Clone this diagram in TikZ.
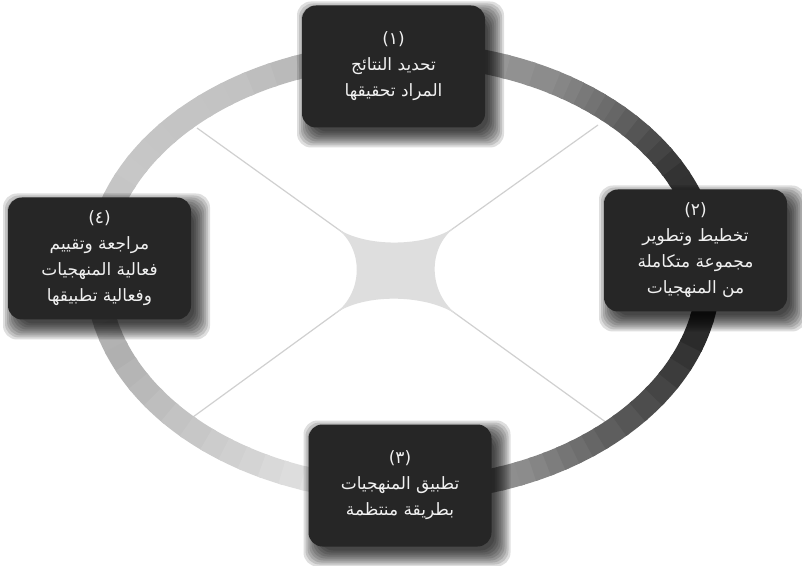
\documentclass[tikz,border=0pt]{standalone}
\usepackage{fontspec}
\usepackage{tikz}
\usetikzlibrary{calc}
\newfontfamily\arabicfont[Script=Arabic]{DejaVu Sans}
\TeXXeTstate=1
\definecolor{boxfill}{HTML}{262626}
\definecolor{boxtext}{HTML}{F0F0F0}
\definecolor{spoke}{HTML}{D0D0D0}
\definecolor{hub}{HTML}{DEDEDE}

\begin{document}
\begin{tikzpicture}[x=1pt,y=1pt,
  stage/.style={fill=boxfill,text=boxtext,rounded corners=14pt,minimum width=183pt,minimum height=122pt,inner sep=0pt,align=center,font=\arabicfont\fontsize{17}{26}\selectfont},
  ringpart/.style={line width=24pt},
  spokeline/.style={spoke,line width=1.2pt}]
\useasboundingbox (0,0) rectangle (802,565);
\fill[white] (0,0) rectangle (802,565);
\coordinate (rc) at (403,293);
\coordinate (hc) at (395,295);
\coordinate (ul) at (197,437);
\coordinate (ur) at (598,440);
\coordinate (ll) at (193,148);
\coordinate (lr) at (607,142);
\foreach \e in {ul,ur,ll,lr}
  \draw[spokeline] (hc) -- (\e);
\fill[hub] ($(hc)!.3!(ul)$) .. controls ($(hc)!.155!(ul)$) and ($(hc)!.155!(ur)$) .. ($(hc)!.3!(ur)$)
  .. controls ($(hc)!.155!(ur)$) and ($(hc)!.155!(lr)$) .. ($(hc)!.3!(lr)$)
  .. controls ($(hc)!.155!(lr)$) and ($(hc)!.155!(ll)$) .. ($(hc)!.3!(ll)$)
  .. controls ($(hc)!.155!(ll)$) and ($(hc)!.155!(ul)$) .. ($(hc)!.3!(ul)$) -- cycle;
\foreach \ta/\tb/\pa/\pb in {-90/-68/42/45,-68/-50/45/63,-50/-20/63/83,-20/25/83/80,25/45/80/60,45/60/60/45,60/90/45/33,90/120/33/24,120/150/24/22,150/180/22/26,180/200/26/31,200/230/31/20,230/255/20/10,255/270/10/8}{
  \foreach \k in {0,...,5}{
    \pgfmathsetmacro{\ang}{\ta+(\tb-\ta)*\k/6}
    \pgfmathsetmacro{\lev}{\pa+(\pb-\pa)*\k/6}
    \pgfmathsetmacro{\dang}{(\tb-\ta)/6+.8}
    \draw[ringpart,black!\lev] (rc) ++(\ang:306pt and 218pt) arc[start angle=\ang,delta angle=\dang,x radius=306pt,y radius=218pt];
  }
}
\foreach \cx/\cy in {393.5/498.5,695.5/314.5,400/79.5,99.5/306.5}
  \foreach \r in {-4,-2,...,12}
    \fill[black,opacity=.13,rounded corners=14pt] (\cx-91.5+7-\r,\cy-61-8-\r) rectangle (\cx+91.5+7+\r,\cy+61-8+\r);
\node[stage] (goals) at (393.5,498.5) {(١)\\\beginR تحديد النتائج\endR\\\beginR المراد تحقيقها\endR};
\node[stage] (plan) at (695.5,314.5) {(٢)\\\beginR تخطيط وتطوير\endR\\\beginR مجموعة متكاملة\endR\\\beginR من المنهجيات\endR};
\node[stage] (apply) at (400,79.5) {(٣)\\\beginR تطبيق المنهجيات\endR\\\beginR بطريقة منتظمة\endR};
\node[stage] (review) at (99.5,306.5) {(٤)\\\beginR مراجعة وتقييم\endR\\\beginR فعالية المنهجيات\endR\\\beginR وفعالية تطبيقها\endR};
\end{tikzpicture}
\end{document}
